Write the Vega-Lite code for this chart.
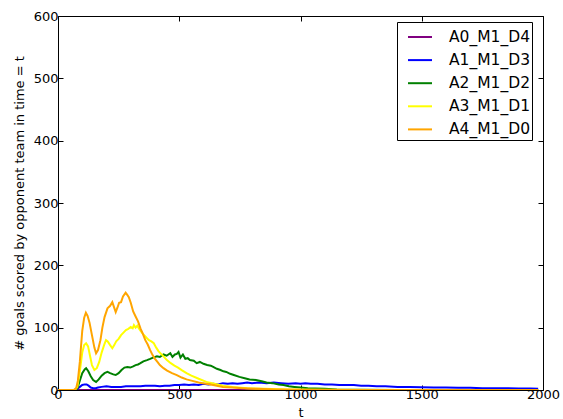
{
  "$schema": "https://vega.github.io/schema/vega-lite/v6.json",
  "width": 485,
  "height": 374,
  "autosize": {"type": "none"},
  "padding": {"left": 58, "top": 16, "right": 20, "bottom": 29},
  "background": "white",
  "config": {
    "font": "DejaVu Sans",
    "view": {"stroke": "black", "strokeWidth": 1},
    "axis": {
      "domain": false,
      "grid": false,
      "tickColor": "black",
      "tickSize": -5,
      "labelColor": "black",
      "labelFontSize": 13,
      "labelFlush": false,
      "labelOverlap": false,
      "titleFontSize": 13,
      "titleFontWeight": "normal",
      "titleColor": "black",
      "format": "d"
    }
  },
  "datasets": {
    "goals": [
      {"s": "A0_M1_D4", "t": 0, "v": 0},
      {"s": "A0_M1_D4", "t": 500, "v": 0},
      {"s": "A0_M1_D4", "t": 1000, "v": 0},
      {"s": "A0_M1_D4", "t": 1500, "v": 0},
      {"s": "A0_M1_D4", "t": 1980, "v": 0},

      {"s": "A1_M1_D3", "t": 0, "v": 0},
      {"s": "A1_M1_D3", "t": 70, "v": 0},
      {"s": "A1_M1_D3", "t": 80, "v": 2},
      {"s": "A1_M1_D3", "t": 90, "v": 5},
      {"s": "A1_M1_D3", "t": 100, "v": 8},
      {"s": "A1_M1_D3", "t": 110, "v": 9},
      {"s": "A1_M1_D3", "t": 118, "v": 9},
      {"s": "A1_M1_D3", "t": 126, "v": 7},
      {"s": "A1_M1_D3", "t": 135, "v": 4},
      {"s": "A1_M1_D3", "t": 145, "v": 3},
      {"s": "A1_M1_D3", "t": 155, "v": 3},
      {"s": "A1_M1_D3", "t": 165, "v": 4},
      {"s": "A1_M1_D3", "t": 180, "v": 5},
      {"s": "A1_M1_D3", "t": 200, "v": 6},
      {"s": "A1_M1_D3", "t": 220, "v": 5},
      {"s": "A1_M1_D3", "t": 240, "v": 5},
      {"s": "A1_M1_D3", "t": 260, "v": 5},
      {"s": "A1_M1_D3", "t": 280, "v": 6},
      {"s": "A1_M1_D3", "t": 300, "v": 6},
      {"s": "A1_M1_D3", "t": 320, "v": 6},
      {"s": "A1_M1_D3", "t": 340, "v": 6},
      {"s": "A1_M1_D3", "t": 360, "v": 7},
      {"s": "A1_M1_D3", "t": 380, "v": 7},
      {"s": "A1_M1_D3", "t": 400, "v": 7},
      {"s": "A1_M1_D3", "t": 420, "v": 6},
      {"s": "A1_M1_D3", "t": 440, "v": 7},
      {"s": "A1_M1_D3", "t": 460, "v": 7},
      {"s": "A1_M1_D3", "t": 480, "v": 8},
      {"s": "A1_M1_D3", "t": 500, "v": 8},
      {"s": "A1_M1_D3", "t": 520, "v": 9},
      {"s": "A1_M1_D3", "t": 540, "v": 8},
      {"s": "A1_M1_D3", "t": 560, "v": 9},
      {"s": "A1_M1_D3", "t": 580, "v": 8},
      {"s": "A1_M1_D3", "t": 600, "v": 10},
      {"s": "A1_M1_D3", "t": 620, "v": 9},
      {"s": "A1_M1_D3", "t": 640, "v": 10},
      {"s": "A1_M1_D3", "t": 660, "v": 9},
      {"s": "A1_M1_D3", "t": 680, "v": 11},
      {"s": "A1_M1_D3", "t": 700, "v": 10},
      {"s": "A1_M1_D3", "t": 720, "v": 11},
      {"s": "A1_M1_D3", "t": 740, "v": 10},
      {"s": "A1_M1_D3", "t": 760, "v": 11},
      {"s": "A1_M1_D3", "t": 780, "v": 12},
      {"s": "A1_M1_D3", "t": 800, "v": 11},
      {"s": "A1_M1_D3", "t": 830, "v": 12},
      {"s": "A1_M1_D3", "t": 860, "v": 11},
      {"s": "A1_M1_D3", "t": 890, "v": 12},
      {"s": "A1_M1_D3", "t": 920, "v": 11},
      {"s": "A1_M1_D3", "t": 950, "v": 10},
      {"s": "A1_M1_D3", "t": 980, "v": 11},
      {"s": "A1_M1_D3", "t": 1000, "v": 10},
      {"s": "A1_M1_D3", "t": 1020, "v": 11},
      {"s": "A1_M1_D3", "t": 1042, "v": 10},
      {"s": "A1_M1_D3", "t": 1070, "v": 10},
      {"s": "A1_M1_D3", "t": 1100, "v": 9},
      {"s": "A1_M1_D3", "t": 1130, "v": 9},
      {"s": "A1_M1_D3", "t": 1160, "v": 8},
      {"s": "A1_M1_D3", "t": 1190, "v": 8},
      {"s": "A1_M1_D3", "t": 1220, "v": 8},
      {"s": "A1_M1_D3", "t": 1250, "v": 7},
      {"s": "A1_M1_D3", "t": 1280, "v": 7},
      {"s": "A1_M1_D3", "t": 1314, "v": 6},
      {"s": "A1_M1_D3", "t": 1350, "v": 6},
      {"s": "A1_M1_D3", "t": 1400, "v": 5},
      {"s": "A1_M1_D3", "t": 1450, "v": 5},
      {"s": "A1_M1_D3", "t": 1500, "v": 4.5},
      {"s": "A1_M1_D3", "t": 1550, "v": 4},
      {"s": "A1_M1_D3", "t": 1600, "v": 4},
      {"s": "A1_M1_D3", "t": 1650, "v": 3.5},
      {"s": "A1_M1_D3", "t": 1700, "v": 3.5},
      {"s": "A1_M1_D3", "t": 1750, "v": 3},
      {"s": "A1_M1_D3", "t": 1800, "v": 3},
      {"s": "A1_M1_D3", "t": 1850, "v": 3},
      {"s": "A1_M1_D3", "t": 1900, "v": 2.5},
      {"s": "A1_M1_D3", "t": 1950, "v": 2.5},
      {"s": "A1_M1_D3", "t": 1980, "v": 2},

      {"s": "A2_M1_D2", "t": 0, "v": 0},
      {"s": "A2_M1_D2", "t": 70, "v": 0},
      {"s": "A2_M1_D2", "t": 80, "v": 3},
      {"s": "A2_M1_D2", "t": 90, "v": 15},
      {"s": "A2_M1_D2", "t": 100, "v": 27},
      {"s": "A2_M1_D2", "t": 110, "v": 33},
      {"s": "A2_M1_D2", "t": 116, "v": 35},
      {"s": "A2_M1_D2", "t": 125, "v": 30},
      {"s": "A2_M1_D2", "t": 135, "v": 22},
      {"s": "A2_M1_D2", "t": 145, "v": 16},
      {"s": "A2_M1_D2", "t": 157, "v": 13},
      {"s": "A2_M1_D2", "t": 168, "v": 17},
      {"s": "A2_M1_D2", "t": 180, "v": 23},
      {"s": "A2_M1_D2", "t": 192, "v": 27},
      {"s": "A2_M1_D2", "t": 204, "v": 29},
      {"s": "A2_M1_D2", "t": 215, "v": 27},
      {"s": "A2_M1_D2", "t": 228, "v": 25},
      {"s": "A2_M1_D2", "t": 238, "v": 24},
      {"s": "A2_M1_D2", "t": 250, "v": 27},
      {"s": "A2_M1_D2", "t": 262, "v": 32},
      {"s": "A2_M1_D2", "t": 274, "v": 36},
      {"s": "A2_M1_D2", "t": 286, "v": 37},
      {"s": "A2_M1_D2", "t": 298, "v": 36},
      {"s": "A2_M1_D2", "t": 310, "v": 38},
      {"s": "A2_M1_D2", "t": 320, "v": 40},
      {"s": "A2_M1_D2", "t": 330, "v": 41},
      {"s": "A2_M1_D2", "t": 340, "v": 43},
      {"s": "A2_M1_D2", "t": 352, "v": 46},
      {"s": "A2_M1_D2", "t": 367, "v": 48},
      {"s": "A2_M1_D2", "t": 380, "v": 50},
      {"s": "A2_M1_D2", "t": 392, "v": 52},
      {"s": "A2_M1_D2", "t": 408, "v": 54},
      {"s": "A2_M1_D2", "t": 420, "v": 53},
      {"s": "A2_M1_D2", "t": 435, "v": 57},
      {"s": "A2_M1_D2", "t": 448, "v": 55},
      {"s": "A2_M1_D2", "t": 463, "v": 59},
      {"s": "A2_M1_D2", "t": 472, "v": 53},
      {"s": "A2_M1_D2", "t": 482, "v": 57},
      {"s": "A2_M1_D2", "t": 490, "v": 58},
      {"s": "A2_M1_D2", "t": 497, "v": 61},
      {"s": "A2_M1_D2", "t": 505, "v": 52},
      {"s": "A2_M1_D2", "t": 515, "v": 57},
      {"s": "A2_M1_D2", "t": 525, "v": 50},
      {"s": "A2_M1_D2", "t": 535, "v": 51},
      {"s": "A2_M1_D2", "t": 544, "v": 48},
      {"s": "A2_M1_D2", "t": 560, "v": 47},
      {"s": "A2_M1_D2", "t": 572, "v": 43},
      {"s": "A2_M1_D2", "t": 585, "v": 45},
      {"s": "A2_M1_D2", "t": 600, "v": 42},
      {"s": "A2_M1_D2", "t": 615, "v": 40},
      {"s": "A2_M1_D2", "t": 630, "v": 39},
      {"s": "A2_M1_D2", "t": 640, "v": 37},
      {"s": "A2_M1_D2", "t": 655, "v": 34},
      {"s": "A2_M1_D2", "t": 670, "v": 32},
      {"s": "A2_M1_D2", "t": 682, "v": 30},
      {"s": "A2_M1_D2", "t": 694, "v": 29},
      {"s": "A2_M1_D2", "t": 710, "v": 26},
      {"s": "A2_M1_D2", "t": 725, "v": 24},
      {"s": "A2_M1_D2", "t": 748, "v": 21},
      {"s": "A2_M1_D2", "t": 770, "v": 19},
      {"s": "A2_M1_D2", "t": 790, "v": 17},
      {"s": "A2_M1_D2", "t": 816, "v": 16},
      {"s": "A2_M1_D2", "t": 840, "v": 14},
      {"s": "A2_M1_D2", "t": 860, "v": 12},
      {"s": "A2_M1_D2", "t": 884, "v": 11},
      {"s": "A2_M1_D2", "t": 910, "v": 9},
      {"s": "A2_M1_D2", "t": 930, "v": 8},
      {"s": "A2_M1_D2", "t": 952, "v": 6},
      {"s": "A2_M1_D2", "t": 975, "v": 5},
      {"s": "A2_M1_D2", "t": 1000, "v": 4},
      {"s": "A2_M1_D2", "t": 1030, "v": 3},
      {"s": "A2_M1_D2", "t": 1060, "v": 2.5},
      {"s": "A2_M1_D2", "t": 1100, "v": 2},
      {"s": "A2_M1_D2", "t": 1150, "v": 1},
      {"s": "A2_M1_D2", "t": 1250, "v": 0.5},
      {"s": "A2_M1_D2", "t": 1400, "v": 0},
      {"s": "A2_M1_D2", "t": 1980, "v": 0},

      {"s": "A3_M1_D1", "t": 0, "v": 0},
      {"s": "A3_M1_D1", "t": 70, "v": 0},
      {"s": "A3_M1_D1", "t": 80, "v": 5},
      {"s": "A3_M1_D1", "t": 90, "v": 30},
      {"s": "A3_M1_D1", "t": 100, "v": 60},
      {"s": "A3_M1_D1", "t": 108, "v": 72},
      {"s": "A3_M1_D1", "t": 116, "v": 75},
      {"s": "A3_M1_D1", "t": 124, "v": 70},
      {"s": "A3_M1_D1", "t": 132, "v": 55},
      {"s": "A3_M1_D1", "t": 140, "v": 40},
      {"s": "A3_M1_D1", "t": 150, "v": 32},
      {"s": "A3_M1_D1", "t": 160, "v": 35},
      {"s": "A3_M1_D1", "t": 170, "v": 45},
      {"s": "A3_M1_D1", "t": 180, "v": 60},
      {"s": "A3_M1_D1", "t": 190, "v": 72},
      {"s": "A3_M1_D1", "t": 198, "v": 80},
      {"s": "A3_M1_D1", "t": 205, "v": 78},
      {"s": "A3_M1_D1", "t": 215, "v": 72},
      {"s": "A3_M1_D1", "t": 224, "v": 67},
      {"s": "A3_M1_D1", "t": 232, "v": 72},
      {"s": "A3_M1_D1", "t": 240, "v": 78},
      {"s": "A3_M1_D1", "t": 250, "v": 82},
      {"s": "A3_M1_D1", "t": 260, "v": 88},
      {"s": "A3_M1_D1", "t": 270, "v": 92},
      {"s": "A3_M1_D1", "t": 280, "v": 96},
      {"s": "A3_M1_D1", "t": 290, "v": 98},
      {"s": "A3_M1_D1", "t": 300, "v": 101},
      {"s": "A3_M1_D1", "t": 308, "v": 99},
      {"s": "A3_M1_D1", "t": 313, "v": 104},
      {"s": "A3_M1_D1", "t": 320, "v": 100},
      {"s": "A3_M1_D1", "t": 327, "v": 103},
      {"s": "A3_M1_D1", "t": 333, "v": 99},
      {"s": "A3_M1_D1", "t": 340, "v": 95},
      {"s": "A3_M1_D1", "t": 350, "v": 90},
      {"s": "A3_M1_D1", "t": 360, "v": 86},
      {"s": "A3_M1_D1", "t": 367, "v": 83},
      {"s": "A3_M1_D1", "t": 375, "v": 80},
      {"s": "A3_M1_D1", "t": 385, "v": 78},
      {"s": "A3_M1_D1", "t": 395, "v": 75},
      {"s": "A3_M1_D1", "t": 405, "v": 68},
      {"s": "A3_M1_D1", "t": 415, "v": 62},
      {"s": "A3_M1_D1", "t": 425, "v": 58},
      {"s": "A3_M1_D1", "t": 435, "v": 54},
      {"s": "A3_M1_D1", "t": 449, "v": 48},
      {"s": "A3_M1_D1", "t": 465, "v": 43},
      {"s": "A3_M1_D1", "t": 480, "v": 39},
      {"s": "A3_M1_D1", "t": 495, "v": 36},
      {"s": "A3_M1_D1", "t": 510, "v": 32},
      {"s": "A3_M1_D1", "t": 530, "v": 27},
      {"s": "A3_M1_D1", "t": 550, "v": 23},
      {"s": "A3_M1_D1", "t": 580, "v": 18},
      {"s": "A3_M1_D1", "t": 612, "v": 13},
      {"s": "A3_M1_D1", "t": 645, "v": 10},
      {"s": "A3_M1_D1", "t": 680, "v": 7},
      {"s": "A3_M1_D1", "t": 720, "v": 5},
      {"s": "A3_M1_D1", "t": 780, "v": 3},
      {"s": "A3_M1_D1", "t": 850, "v": 2},
      {"s": "A3_M1_D1", "t": 950, "v": 1},
      {"s": "A3_M1_D1", "t": 1100, "v": 0.5},
      {"s": "A3_M1_D1", "t": 1300, "v": 0},
      {"s": "A3_M1_D1", "t": 1980, "v": 0},

      {"s": "A4_M1_D0", "t": 0, "v": 0},
      {"s": "A4_M1_D0", "t": 65, "v": 0},
      {"s": "A4_M1_D0", "t": 75, "v": 3},
      {"s": "A4_M1_D0", "t": 82, "v": 15},
      {"s": "A4_M1_D0", "t": 90, "v": 45},
      {"s": "A4_M1_D0", "t": 100, "v": 95},
      {"s": "A4_M1_D0", "t": 108, "v": 116},
      {"s": "A4_M1_D0", "t": 115, "v": 124},
      {"s": "A4_M1_D0", "t": 122, "v": 119},
      {"s": "A4_M1_D0", "t": 130, "v": 108},
      {"s": "A4_M1_D0", "t": 140, "v": 88},
      {"s": "A4_M1_D0", "t": 150, "v": 68},
      {"s": "A4_M1_D0", "t": 157, "v": 59},
      {"s": "A4_M1_D0", "t": 165, "v": 64},
      {"s": "A4_M1_D0", "t": 175, "v": 80},
      {"s": "A4_M1_D0", "t": 183, "v": 100},
      {"s": "A4_M1_D0", "t": 192, "v": 117},
      {"s": "A4_M1_D0", "t": 204, "v": 131},
      {"s": "A4_M1_D0", "t": 215, "v": 135},
      {"s": "A4_M1_D0", "t": 224, "v": 141},
      {"s": "A4_M1_D0", "t": 231, "v": 133},
      {"s": "A4_M1_D0", "t": 238, "v": 125},
      {"s": "A4_M1_D0", "t": 245, "v": 132},
      {"s": "A4_M1_D0", "t": 252, "v": 140},
      {"s": "A4_M1_D0", "t": 260, "v": 141},
      {"s": "A4_M1_D0", "t": 268, "v": 150},
      {"s": "A4_M1_D0", "t": 279, "v": 156},
      {"s": "A4_M1_D0", "t": 285, "v": 153},
      {"s": "A4_M1_D0", "t": 292, "v": 149},
      {"s": "A4_M1_D0", "t": 300, "v": 140},
      {"s": "A4_M1_D0", "t": 310, "v": 126},
      {"s": "A4_M1_D0", "t": 320, "v": 118},
      {"s": "A4_M1_D0", "t": 330, "v": 110},
      {"s": "A4_M1_D0", "t": 340, "v": 99},
      {"s": "A4_M1_D0", "t": 350, "v": 90},
      {"s": "A4_M1_D0", "t": 360, "v": 80},
      {"s": "A4_M1_D0", "t": 370, "v": 73},
      {"s": "A4_M1_D0", "t": 380, "v": 64},
      {"s": "A4_M1_D0", "t": 390, "v": 56},
      {"s": "A4_M1_D0", "t": 400, "v": 50},
      {"s": "A4_M1_D0", "t": 410, "v": 45},
      {"s": "A4_M1_D0", "t": 420, "v": 40},
      {"s": "A4_M1_D0", "t": 435, "v": 35},
      {"s": "A4_M1_D0", "t": 450, "v": 31},
      {"s": "A4_M1_D0", "t": 470, "v": 27},
      {"s": "A4_M1_D0", "t": 490, "v": 24},
      {"s": "A4_M1_D0", "t": 510, "v": 20},
      {"s": "A4_M1_D0", "t": 530, "v": 17},
      {"s": "A4_M1_D0", "t": 550, "v": 15},
      {"s": "A4_M1_D0", "t": 580, "v": 12},
      {"s": "A4_M1_D0", "t": 610, "v": 10},
      {"s": "A4_M1_D0", "t": 640, "v": 8},
      {"s": "A4_M1_D0", "t": 680, "v": 5},
      {"s": "A4_M1_D0", "t": 720, "v": 4},
      {"s": "A4_M1_D0", "t": 760, "v": 3},
      {"s": "A4_M1_D0", "t": 820, "v": 2},
      {"s": "A4_M1_D0", "t": 900, "v": 1},
      {"s": "A4_M1_D0", "t": 1000, "v": 0.5},
      {"s": "A4_M1_D0", "t": 1200, "v": 0},
      {"s": "A4_M1_D0", "t": 1980, "v": 0}
    ]
  },
  "data": {"name": "goals"},
  "layer": [
    {
      "mark": {"type": "line", "strokeWidth": 2, "clip": true},
      "encoding": {
        "x": {
          "field": "t",
          "type": "quantitative",
          "scale": {"domain": [0, 2000], "nice": false, "zero": false},
          "axis": {"values": [0, 500, 1000, 1500, 2000], "title": "t", "labelPadding": 3, "titlePadding": 5}
        },
        "y": {
          "field": "v",
          "type": "quantitative",
          "scale": {"domain": [0, 600], "nice": false},
          "axis": {"values": [0, 100, 200, 300, 400, 500, 600], "title": "# goals scored by opponent team in time = t", "labelPadding": 5, "titlePadding": 7}
        },
        "color": {
          "field": "s",
          "type": "nominal",
          "scale": {
            "domain": ["A0_M1_D4", "A1_M1_D3", "A2_M1_D2", "A3_M1_D1", "A4_M1_D0"],
            "range": ["#800080", "#0000ff", "#008000", "#ffff00", "#ffa500"]
          },
          "legend": {
            "title": null,
            "orient": "none",
            "legendX": 339,
            "legendY": 6,
            "symbolType": "stroke",
            "symbolSize": 576,
            "symbolStrokeWidth": 2,
            "symbolOffset": 8,
            "labelFontSize": 15.5,
            "labelColor": "black",
            "labelOffset": 16,
            "rowPadding": 1.1,
            "padding": 2,
            "strokeColor": "black",
            "fillColor": "white",
            "cornerRadius": 0
          }
        }
      }
    },
    {
      "mark": {"type": "rule", "opacity": 0},
      "encoding": {
        "x": {
          "field": "t",
          "type": "quantitative",
          "scale": {"domain": [0, 2000], "nice": false, "zero": false},
          "axis": {"orient": "top", "values": [0, 500, 1000, 1500, 2000], "labels": false, "title": null}
        },
        "y": {
          "field": "v",
          "type": "quantitative",
          "scale": {"domain": [0, 600], "nice": false},
          "axis": {"orient": "right", "values": [0, 100, 200, 300, 400, 500, 600], "labels": false, "title": null}
        }
      }
    }
  ],
  "resolve": {"axis": {"x": "independent", "y": "independent"}}
}
